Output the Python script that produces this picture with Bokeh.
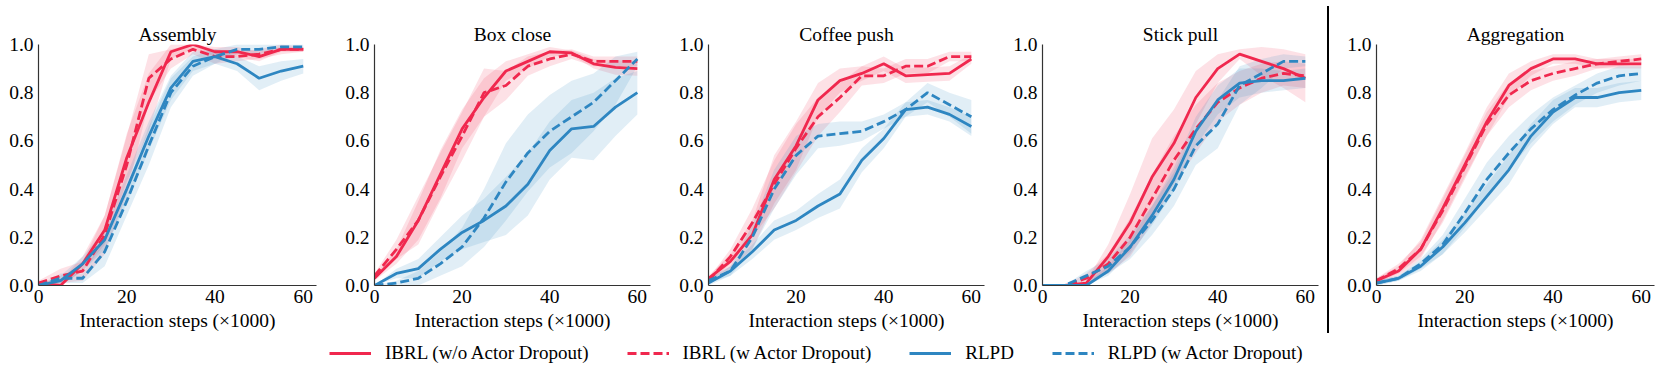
from bokeh.plotting import figure
from bokeh.layouts import row, column
from bokeh.models import Range1d, PrintfTickFormatter, Legend, LegendItem, Div
from bokeh.embed import file_html
from bokeh.resources import INLINE

FONT = "Liberation Serif"
FS = "19.5px"
RED = "#F0284E"
BLUE = "#2E86C1"

steps = [0, 5, 10, 15, 20, 25, 30, 35, 40, 45, 50, 55, 60]
tasks = ["Assembly", "Box close", "Coffee push", "Stick pull", "Aggregation"]
series_labels = ["IBRL (w/o Actor Dropout)", "IBRL (w Actor Dropout)", "RLPD", "RLPD (w Actor Dropout)"]
x_ticks = [0, 20, 40, 60]
y_ticks = [0.0, 0.2, 0.4, 0.6, 0.8, 1.0]
x_label = "Interaction steps (\u00d71000)"

# ---- Assembly ----
assembly_ibrl = [0.01, 0.00, 0.09, 0.23, 0.53, 0.76, 0.97, 1.00, 0.97, 0.97, 0.95, 0.98, 0.98]
assembly_ibrl_sd = [0.01, 0.02, 0.03, 0.06, 0.10, 0.12, 0.03, 0.02, 0.02, 0.02, 0.02, 0.01, 0.01]
assembly_ibrl_do = [0.01, 0.04, 0.06, 0.21, 0.50, 0.86, 0.94, 0.98, 0.95, 0.95, 0.96, 0.98, 0.98]
assembly_ibrl_do_sd = [0.01, 0.03, 0.04, 0.08, 0.12, 0.10, 0.04, 0.02, 0.03, 0.02, 0.02, 0.02, 0.01]
assembly_rlpd = [0.00, 0.02, 0.09, 0.19, 0.40, 0.62, 0.82, 0.93, 0.95, 0.92, 0.86, 0.89, 0.91]
assembly_rlpd_sd = [0.00, 0.02, 0.03, 0.04, 0.06, 0.06, 0.05, 0.04, 0.03, 0.03, 0.05, 0.04, 0.03]
assembly_rlpd_do = [0.00, 0.03, 0.03, 0.14, 0.35, 0.58, 0.80, 0.91, 0.95, 0.98, 0.98, 0.99, 0.99]
assembly_rlpd_do_sd = [0.00, 0.02, 0.02, 0.06, 0.06, 0.08, 0.06, 0.04, 0.03, 0.02, 0.02, 0.01, 0.01]

# ---- Box close ----
box_ibrl = [0.03, 0.12, 0.27, 0.46, 0.65, 0.78, 0.89, 0.93, 0.97, 0.965, 0.92, 0.905, 0.90]
box_ibrl_sd = [0.01, 0.03, 0.08, 0.10, 0.08, 0.08, 0.04, 0.03, 0.02, 0.01, 0.02, 0.03, 0.03]
box_ibrl_do = [0.04, 0.15, 0.27, 0.45, 0.62, 0.80, 0.83, 0.91, 0.94, 0.96, 0.93, 0.93, 0.93]
box_ibrl_do_sd = [0.01, 0.04, 0.10, 0.10, 0.10, 0.10, 0.06, 0.04, 0.03, 0.02, 0.02, 0.02, 0.02]
box_rlpd = [0.00, 0.05, 0.07, 0.15, 0.22, 0.27, 0.33, 0.42, 0.56, 0.65, 0.66, 0.74, 0.80]
box_rlpd_sd = [0.00, 0.02, 0.04, 0.05, 0.07, 0.09, 0.12, 0.13, 0.12, 0.12, 0.14, 0.12, 0.09]
box_rlpd_do = [0.00, 0.01, 0.03, 0.09, 0.16, 0.28, 0.43, 0.55, 0.64, 0.70, 0.76, 0.85, 0.94]
box_rlpd_do_sd = [0.00, 0.01, 0.03, 0.05, 0.08, 0.12, 0.16, 0.16, 0.15, 0.15, 0.12, 0.10, 0.03]

# ---- Coffee push ----
coffee_ibrl = [0.03, 0.10, 0.21, 0.44, 0.58, 0.77, 0.85, 0.88, 0.92, 0.87, 0.875, 0.88, 0.94]
coffee_ibrl_sd = [0.01, 0.03, 0.06, 0.10, 0.10, 0.07, 0.05, 0.03, 0.03, 0.03, 0.03, 0.03, 0.02]
coffee_ibrl_do = [0.02, 0.12, 0.26, 0.42, 0.57, 0.70, 0.78, 0.87, 0.87, 0.91, 0.91, 0.95, 0.95]
coffee_ibrl_do_sd = [0.01, 0.03, 0.06, 0.10, 0.10, 0.08, 0.06, 0.04, 0.03, 0.03, 0.03, 0.02, 0.02]
coffee_rlpd = [0.01, 0.06, 0.14, 0.23, 0.27, 0.33, 0.38, 0.52, 0.61, 0.73, 0.74, 0.71, 0.66]
coffee_rlpd_sd = [0.01, 0.02, 0.03, 0.04, 0.04, 0.05, 0.06, 0.05, 0.04, 0.03, 0.03, 0.03, 0.04]
coffee_rlpd_do = [0.02, 0.06, 0.20, 0.40, 0.54, 0.62, 0.63, 0.64, 0.68, 0.73, 0.80, 0.75, 0.70]
coffee_rlpd_do_sd = [0.01, 0.02, 0.05, 0.08, 0.08, 0.05, 0.05, 0.04, 0.03, 0.03, 0.04, 0.05, 0.07]

# ---- Stick pull ----
stick_ibrl = [0.00, 0.00, 0.01, 0.12, 0.26, 0.45, 0.59, 0.78, 0.90, 0.96, 0.93, 0.90, 0.86]
stick_ibrl_sd = [0.00, 0.00, 0.01, 0.05, 0.12, 0.16, 0.14, 0.11, 0.06, 0.02, 0.06, 0.08, 0.10]
stick_ibrl_do = [0.00, 0.00, 0.03, 0.09, 0.20, 0.36, 0.52, 0.65, 0.76, 0.82, 0.86, 0.88, 0.87]
stick_ibrl_do_sd = [0.00, 0.00, 0.02, 0.04, 0.08, 0.10, 0.10, 0.10, 0.08, 0.07, 0.06, 0.05, 0.05]
stick_rlpd = [0.00, 0.00, 0.00, 0.06, 0.16, 0.29, 0.44, 0.64, 0.77, 0.84, 0.85, 0.85, 0.86]
stick_rlpd_sd = [0.00, 0.00, 0.01, 0.02, 0.03, 0.04, 0.05, 0.06, 0.06, 0.06, 0.05, 0.04, 0.04]
stick_rlpd_do = [0.00, 0.00, 0.04, 0.08, 0.16, 0.27, 0.40, 0.58, 0.67, 0.83, 0.88, 0.93, 0.93]
stick_rlpd_do_sd = [0.00, 0.00, 0.02, 0.03, 0.05, 0.06, 0.07, 0.08, 0.10, 0.08, 0.06, 0.03, 0.02]

# ---- Aggregation ----
agg_ibrl = [0.02, 0.06, 0.15, 0.32, 0.50, 0.68, 0.83, 0.90, 0.94, 0.94, 0.92, 0.92, 0.92]
agg_ibrl_sd = [0.01, 0.02, 0.04, 0.05, 0.05, 0.06, 0.05, 0.03, 0.02, 0.02, 0.02, 0.02, 0.02]
agg_ibrl_do = [0.02, 0.07, 0.15, 0.31, 0.49, 0.67, 0.79, 0.85, 0.88, 0.90, 0.92, 0.93, 0.94]
agg_ibrl_do_sd = [0.01, 0.02, 0.03, 0.05, 0.05, 0.05, 0.05, 0.04, 0.03, 0.03, 0.02, 0.02, 0.02]
agg_rlpd = [0.01, 0.03, 0.08, 0.16, 0.26, 0.37, 0.48, 0.62, 0.72, 0.78, 0.78, 0.80, 0.81]
agg_rlpd_sd = [0.01, 0.01, 0.02, 0.03, 0.04, 0.05, 0.06, 0.05, 0.05, 0.04, 0.04, 0.04, 0.04]
agg_rlpd_do = [0.01, 0.03, 0.09, 0.17, 0.30, 0.44, 0.55, 0.65, 0.73, 0.79, 0.84, 0.87, 0.88]
agg_rlpd_do_sd = [0.01, 0.01, 0.02, 0.04, 0.06, 0.07, 0.07, 0.06, 0.05, 0.04, 0.04, 0.04, 0.03]

panel_data = [
    [(assembly_ibrl, assembly_ibrl_sd), (assembly_ibrl_do, assembly_ibrl_do_sd), (assembly_rlpd, assembly_rlpd_sd), (assembly_rlpd_do, assembly_rlpd_do_sd)],
    [(box_ibrl, box_ibrl_sd), (box_ibrl_do, box_ibrl_do_sd), (box_rlpd, box_rlpd_sd), (box_rlpd_do, box_rlpd_do_sd)],
    [(coffee_ibrl, coffee_ibrl_sd), (coffee_ibrl_do, coffee_ibrl_do_sd), (coffee_rlpd, coffee_rlpd_sd), (coffee_rlpd_do, coffee_rlpd_do_sd)],
    [(stick_ibrl, stick_ibrl_sd), (stick_ibrl_do, stick_ibrl_do_sd), (stick_rlpd, stick_rlpd_sd), (stick_rlpd_do, stick_rlpd_do_sd)],
    [(agg_ibrl, agg_ibrl_sd), (agg_ibrl_do, agg_ibrl_do_sd), (agg_rlpd, agg_rlpd_sd), (agg_rlpd_do, agg_rlpd_do_sd)],
]

styles = [(RED, "solid"), (RED, "9 4"), (BLUE, "solid"), (BLUE, "9 4")]
LW = 2.8
FIG_H = 338


def make_panel(title, data, width, left, right):
    p = figure(width=width, height=FIG_H,
               x_range=Range1d(0, 63), y_range=Range1d(0, 1),
               output_backend="svg", toolbar_location=None,
               min_border_left=left, min_border_right=right,
               min_border_top=44, min_border_bottom=53, title=title)
    p.title.align = "center"
    p.title.text_font = FONT
    p.title.text_font_size = FS
    p.title.text_font_style = "normal"
    p.title.text_color = "black"
    p.title.standoff = 0
    p.outline_line_color = None
    p.grid.visible = False
    for (mean, sd), (c, dash) in zip(data, styles):
        lo = [max(0.0, m - s) for m, s in zip(mean, sd)]
        hi = [min(1.0, m + s) for m, s in zip(mean, sd)]
        p.varea(x=steps, y1=lo, y2=hi, fill_color=c, fill_alpha=0.14)
    for (mean, sd), (c, dash) in zip(data, styles):
        p.line(x=steps, y=mean, line_color=c, line_width=LW, line_dash=dash)
    p.xaxis.ticker = x_ticks
    p.yaxis.ticker = y_ticks
    p.yaxis.formatter = PrintfTickFormatter(format="%.1f")
    p.xaxis.axis_label = x_label
    for ax in (p.xaxis[0], p.yaxis[0]):
        ax.major_tick_line_color = None
        ax.minor_tick_line_color = None
        ax.major_tick_out = 0
        ax.major_tick_in = 0
        ax.minor_tick_out = 0
        ax.minor_tick_in = 0
        ax.axis_line_color = "#333333"
        ax.axis_line_width = 1.2
        ax.major_label_text_font = FONT
        ax.major_label_text_font_size = FS
        ax.major_label_text_color = "black"
        ax.axis_label_text_font = FONT
        ax.axis_label_text_font_size = FS
        ax.axis_label_text_font_style = "normal"
        ax.axis_label_text_color = "black"
    p.xaxis.major_label_standoff = 4
    p.yaxis.major_label_standoff = 5
    p.xaxis.axis_label_standoff = 4
    return p


geom = [(342, 38, 26), (334, 30, 26), (334, 30, 26), (317, 30, 9), (332, 47, 7)]
panels = [make_panel(t, d, w, l, r) for t, d, (w, l, r) in zip(tasks, panel_data, geom)]

sep = Div(width=2, height=327, margin=(6, 0, 0, 0), styles={"background-color": "black"})

top = row(panels[0], panels[1], panels[2], panels[3], sep, panels[4])

# legend figure
lf = figure(width=1661, height=42, x_range=Range1d(0, 1), y_range=Range1d(0, 1),
            output_backend="svg", toolbar_location=None, min_border=0)
lf.axis.visible = False
lf.grid.visible = False
lf.outline_line_color = None
items = []
for lab, (c, dash) in zip(series_labels, styles):
    r = lf.line(x=[-2, -1], y=[-2, -2], line_color=c, line_width=LW, line_dash=dash)
    items.append(LegendItem(label=lab, renderers=[r]))
leg = Legend(items=items, orientation="horizontal", location=(329, 16),
             glyph_width=42, glyph_height=20, label_standoff=14, spacing=38,
             padding=0, margin=0, border_line_color=None, background_fill_alpha=0,
             label_text_font=FONT, label_text_font_size="19px", label_text_color="black")
lf.add_layout(leg, "center")

layout = column(top, lf)
open("out.html", "w").write(file_html(layout, INLINE))
